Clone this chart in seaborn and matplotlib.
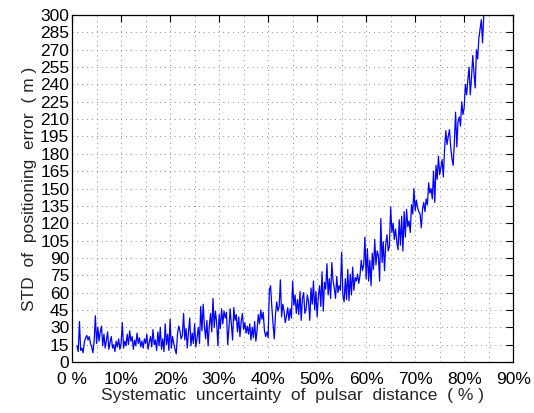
import numpy as np
import pandas as pd
import matplotlib
matplotlib.use("Agg")
import matplotlib.pyplot as plt
import seaborn as sns

# x sampling: systematic uncertainty (%) from 1% in 0.25% steps
x_start = 1.0
x_step = 0.25

std_error = [
    # 1.0 - 5.75
    14, 9, 35, 10, 12, 8, 17, 21, 23, 19, 22, 16, 13, 8, 18, 40, 16, 30, 18, 26,
    # 6.0 - 10.75
    31, 14, 24, 12, 19, 26, 11, 17, 22, 12, 15, 9, 18, 13, 20, 11, 16, 34, 12, 18,
    # 11.0 - 15.75
    14, 24, 15, 27, 18, 22, 11, 19, 14, 25, 16, 21, 13, 18, 12, 20, 16, 24, 11, 17,
    # 16.0 - 20.75
    22, 13, 28, 15, 19, 10, 26, 14, 30, 11, 20, 9, 33, 15, 24, 10, 37, 12, 22, 16,
    # 21.0 - 25.75
    11, 7, 24, 31, 27, 20, 23, 42, 19, 29, 12, 26, 38, 14, 25, 16, 33, 13, 21, 30,
    # 26.0 - 30.75
    16, 48, 27, 50, 31, 20, 36, 14, 31, 42, 26, 55, 30, 44, 34, 14, 41, 29, 46, 33,
    # 31.0 - 35.75
    44, 38, 43, 15, 29, 46, 33, 19, 47, 36, 41, 26, 39, 22, 35, 42, 28, 34, 25, 31,
    # 36.0 - 40.75
    24, 33, 19, 30, 21, 35, 18, 28, 41, 33, 45, 37, 43, 27, 22, 26, 21, 62, 66, 48,
    # 41.0 - 45.75
    33, 20, 41, 52, 44, 48, 71, 39, 50, 44, 34, 40, 47, 36, 46, 38, 70, 49, 58, 42,
    # 46.0 - 50.75
    54, 41, 61, 36, 55, 60, 42, 46, 58, 52, 36, 64, 50, 70, 45, 61, 39, 57, 66, 48,
    # 51.0 - 55.75
    78, 44, 69, 63, 85, 58, 72, 55, 86, 70, 64, 55, 74, 60, 66, 62, 95, 58, 52, 72,
    # 56.0 - 60.75
    54, 80, 53, 76, 58, 82, 62, 73, 70, 76, 68, 75, 88, 79, 84, 108, 72, 98, 70, 88,
    # 61.0 - 65.75
    66, 94, 80, 106, 84, 96, 92, 70, 124, 86, 104, 79, 102, 110, 96, 100, 134, 112, 120, 106,
    # 66.0 - 70.75
    115, 104, 97, 123, 101, 126, 96, 130, 108, 132, 117, 122, 112, 136, 128, 150, 131, 140, 133, 130,
    # 71.0 - 75.75
    128, 116, 132, 138, 130, 141, 136, 155, 146, 150, 141, 165, 138, 170, 158, 178, 162, 168, 175, 160,
    # 76.0 - 80.75
    184, 200, 188, 195, 201, 186, 176, 170, 190, 216, 186, 208, 212, 204, 225, 214, 220, 240, 231, 244,
    # 81.0 - 84.5
    255, 231, 246, 265, 250, 237, 270, 262, 280, 288, 296, 276, 300, 312, 330,
]

x_pct = x_start + x_step * np.arange(len(std_error))
df = pd.DataFrame({"x": x_pct / 100.0, "y": std_error})

x_ticks = [0, 10, 20, 30, 40, 50, 60, 70, 80, 90]
x_tick_labels = ["0 %", "10%", "20%", "30%", "40%", "50%", "60%", "70%", "80%", "90%"]
y_ticks = list(range(0, 301, 15))

sns.set_style("white")
plt.rcParams["font.family"] = ["Liberation Sans", "DejaVu Sans"]

fig = plt.figure(figsize=(5.34, 4.13), dpi=100)
ax = fig.add_axes([0.135, 0.1235, 0.826, 0.840])

sns.lineplot(data=df, x="x", y="y", ax=ax, color=(0, 0, 1), linewidth=0.9,
             estimator=None, sort=False)

ax.set_xlim(0, 0.9)
ax.set_ylim(0, 300)
ax.set_xticks([t / 100 for t in x_ticks])
ax.set_xticklabels(x_tick_labels)
ax.set_xticks([t / 100 for t in range(5, 90, 10)], minor=True)
ax.set_yticks(y_ticks)
ax.set_yticklabels([str(v) for v in y_ticks])

ax.grid(True, which="both", linestyle=(0, (1, 4)), color="#8a8a8a", linewidth=0.7)
ax.tick_params(axis="both", which="major", direction="in", length=5, width=0.8,
               top=True, right=True, labelsize=12.5, colors="black")
ax.tick_params(axis="y", which="major", pad=2)
ax.tick_params(axis="x", which="major", pad=7)
ax.tick_params(axis="x", which="minor", length=0, top=False, bottom=False)
for s in ax.spines.values():
    s.set_color("black")
    s.set_linewidth(0.9)

ax.set_xlabel("Systematic  uncertainty  of  pulsar  distance  ( % )", fontsize=12.5, labelpad=1)
ax.set_ylabel("STD  of  positioning  error  ( m )", fontsize=12.5, labelpad=2)

fig.savefig("out.png", dpi=100, facecolor="white")
